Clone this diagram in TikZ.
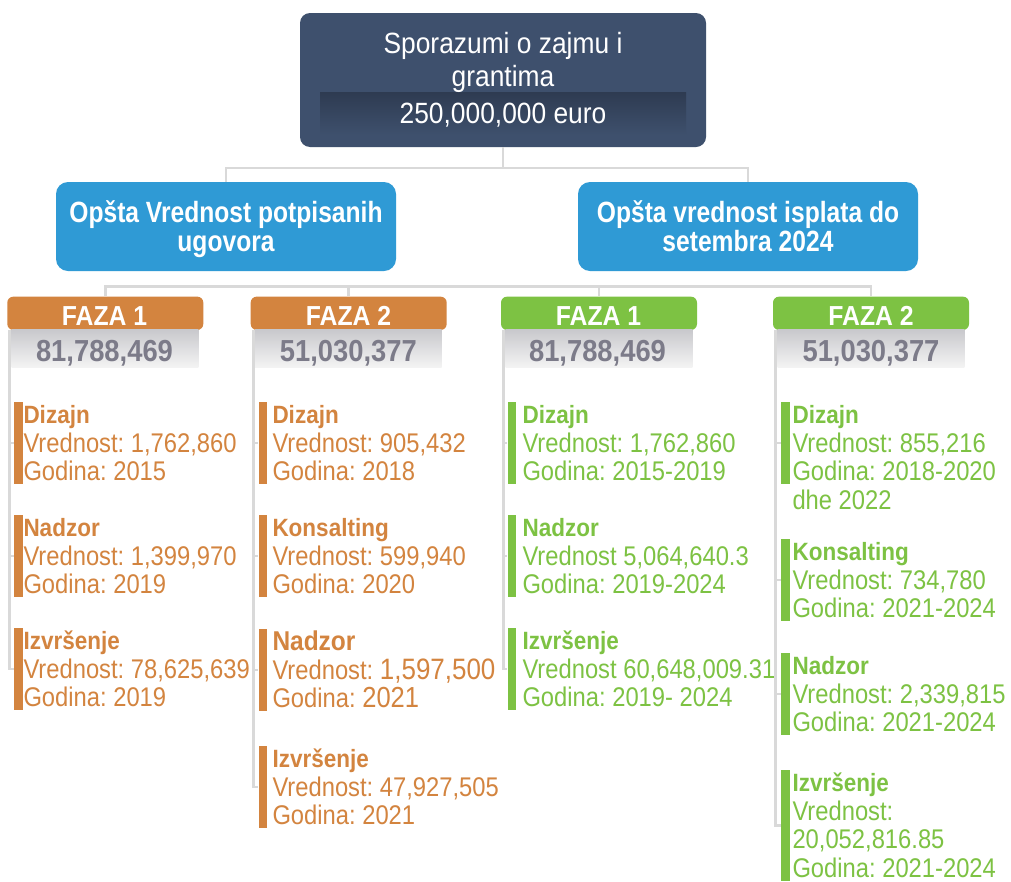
\documentclass[tikz,border=0pt]{standalone}
\usepackage{fontspec}
\setmainfont{Liberation Sans}
\newfontfamily\fA{Liberation Sans}[FakeStretch=0.9]
\newfontfamily\fC{Liberation Sans}[FakeStretch=0.88]
\newfontfamily\fB{Liberation Sans}[FakeStretch=0.84]
\frenchspacing
\usetikzlibrary{calc}
\definecolor{navy}{HTML}{3E506D}
\definecolor{navyd}{HTML}{2E3B51}
\definecolor{sky}{HTML}{2F9AD5}
\definecolor{orng}{HTML}{D3843F}
\definecolor{grn}{HTML}{7DC243}
\definecolor{numgray}{HTML}{7C7B89}
\definecolor{linegray}{HTML}{D9D9D9}
\definecolor{bandtop}{HTML}{C9C9CD}
\definecolor{bandbot}{HTML}{F4F4F4}
\tikzset{
  conn/.style={draw=linegray, line width=2.5pt},
  topbox/.style={rectangle, rounded corners=10pt, fill=navy, minimum width=406pt, minimum height=134pt, inner sep=0pt},
  bluebox/.style={rectangle, rounded corners=12pt, fill=sky, minimum width=340pt, minimum height=89pt, inner sep=0pt},
  fazabox/.style={rectangle, rounded corners=6pt, minimum width=196pt, minimum height=33.3pt, inner sep=0pt},
  bandbox/.style={rectangle, top color=bandtop, bottom color=bandbot, minimum width=186.6pt, minimum height=37.7pt, inner sep=0pt},
  toptext/.style={anchor=base, inner sep=0pt, text=white, font=\fA\fontsize{29.3}{30}\selectfont},
  bluetext/.style={anchor=base, inner sep=0pt, text=white, font=\fB\bfseries\fontsize{29.3}{30}\selectfont},
  fazatext/.style={anchor=base, inner sep=0pt, text=white, font=\fA\bfseries\fontsize{27.5}{28}\selectfont},
  numtext/.style={anchor=base, inner sep=0pt, text=numgray, font=\fA\bfseries\fontsize{30.4}{31}\selectfont},
  itembar/.style={rectangle, anchor=north west, inner sep=0pt, minimum width=8.6pt, minimum height=82pt},
  ttl/.style={anchor=base west, inner sep=0pt, font=\fA\bfseries\fontsize{25}{26}\selectfont},
  txt/.style={anchor=base west, inner sep=0pt, font=\fC\fontsize{27}{28}\selectfont},
}
\newcommand\stditem[8]{%
  \node[itembar,fill=#5] (#1) at (#2,#4) {};
  \node[ttl,text=#5] (#1t) at (#3,#4+21) {#6};
  \node[txt,text=#5] (#1v) at (#3,#4+50) {#7};
  \node[txt,text=#5] (#1g) at (#3,#4+78.5) {#8};
}
\begin{document}
\begin{tikzpicture}[x=1pt,y=-1pt]
\useasboundingbox (0,0) rectangle (1011,881);
\fill[white] (0,0) rectangle (1011,881);

% top box
\node[topbox] (top) at (503,80) {};
\fill[top color=navyd, bottom color=navy] (320,92) rectangle (686,135);
\node[toptext] (t1) at (503,53) {Sporazumi o zajmu i};
\node[toptext] (t2) at (503,86.5) {grantima};
\node[toptext] (t3) at (503,123) {250,000,000 euro};

% blue boxes
\node[bluebox] (b1) at (226,226.5) {};
\node[bluebox] (b2) at (748,226.5) {};
\node[bluetext] (b1a) at (226,222.5) {Opšta Vrednost potpisanih};
\node[bluetext] (b1b) at (226,251) {ugovora};
\node[bluetext] (b2a) at (748,222.5) {Opšta vrednost isplata do};
\node[bluetext] (b2b) at (748,251) {setembra 2024};

\coordinate (j1) at (503,168);
\draw[conn] (top.south) -- (j1);
\draw[conn] (b1.north) |- (j1) -| (b2.north);

% FAZA headers
\node[fazabox,fill=orng] (f1) at (105.3,313.3) {};
\node[fazabox,fill=orng] (f2) at (348.7,313.3) {};
\node[fazabox,fill=grn] (f3) at (599,313.3) {};
\node[fazabox,fill=grn] (f4) at (871,313.3) {};
\coordinate (h1) at (105.3,286.5);
\coordinate (h4) at (871,286.5);
\draw[conn] (f1.north) -- (h1) -- (h4) -- (f4.north);
\draw[conn] (f2.north) -- (f2.north |- h1);
\draw[conn] (f3.north) -- (f3.north |- h1);
\node[fazatext] (f1t) at (104.5,325.7) {FAZA 1};
\node[fazatext] (f2t) at (348.5,325.7) {FAZA 2};
\node[fazatext] (f3t) at (598.5,325.7) {FAZA 1};
\node[fazatext] (f4t) at (871,325.7) {FAZA 2};

% number bands
\node[bandbox] (n1) at (105,348.8) {};
\node[bandbox] (n2) at (348.3,348.8) {};
\node[bandbox] (n3) at (599,348.8) {};
\node[bandbox] (n4) at (871,348.8) {};
\node[numtext] (n1t) at (104.5,361) {81,788,469};
\node[numtext] (n2t) at (348.3,361) {51,030,377};
\node[numtext] (n3t) at (597.5,361) {81,788,469};
\node[numtext] (n4t) at (871,361) {51,030,377};

% column 1
\begin{scope}
\clip (0,380) rectangle (255,881);
\stditem{i11}{14}{23.3}{402}{orng}{Dizajn}{Vrednost: 1,762,860}{Godina: 2015}
\stditem{i12}{14}{23.3}{515}{orng}{Nadzor}{Vrednost: 1,399,970}{Godina: 2019}
\stditem{i13}{14}{23.3}{628}{orng}{Izvršenje}{Vrednost: 78,625,639}{Godina: 2019}
\end{scope}

% column 2
\stditem{i21}{258.3}{272.3}{402}{orng}{Dizajn}{Vrednost: 905,432}{Godina: 2018}
\stditem{i22}{258.3}{272.3}{515}{orng}{Konsalting}{Vrednost: 599,940}{Godina: 2020}
\node[itembar,fill=orng] (i23) at (258.3,629) {};
\node[ttl,text=orng,font=\fA\bfseries\fontsize{27.2}{28}\selectfont] (i23t) at (272.3,650) {Nadzor};
\node[txt,text=orng] (i23v) at (272.3,679) {Vrednost: {\fontsize{29.5}{30}\selectfont 1,597,500}};
\node[txt,text=orng] (i23g) at (272.3,707.5) {Godina: {\fontsize{29}{30}\selectfont 2021}};
\stditem{i24}{258.3}{272.3}{746}{orng}{Izvršenje}{Vrednost: 47,927,505}{Godina: 2021}

% column 3
\stditem{i31}{507.3}{522.3}{402}{grn}{Dizajn}{Vrednost: 1,762,860}{Godina: 2015-2019}
\stditem{i32}{507.3}{522.3}{515}{grn}{Nadzor}{Vrednost 5,064,640.3}{Godina: 2019-2024}
\stditem{i33}{507.3}{522.3}{628}{grn}{Izvršenje}{Vrednost 60,648,009.31}{Godina: 2019- 2024}

% column 4
\stditem{i41}{780.7}{792.3}{402}{grn}{Dizajn}{Vrednost: 855,216}{Godina: 2018-2020}
\node[txt,text=grn] (i41d) at (792.3,509.3) {dhe 2022};
\stditem{i42}{780.7}{792.3}{539}{grn}{Konsalting}{Vrednost: 734,780}{Godina: 2021-2024}
\stditem{i43}{780.7}{792.3}{653}{grn}{Nadzor}{Vrednost: 2,339,815}{Godina: 2021-2024}
\node[itembar,fill=grn,minimum height=111pt] (i44) at (780.7,770) {};
\node[ttl,text=grn] (i44t) at (792.3,791) {Izvršenje};
\node[txt,text=grn] (i44v) at (792.3,820) {Vrednost:};
\node[txt,text=grn] (i44n) at (792.3,848.5) {20,052,816.85};
\node[txt,text=grn] (i44g) at (792.3,877) {Godina: 2021-2024};

% tree lines
\coordinate (c1) at (9.7,330);
\coordinate (c2) at (253.3,330);
\coordinate (c3) at (503.3,330);
\coordinate (c4) at (775.3,330);
\draw[conn] (c1) |- (i13.west);
\draw[conn] (c1 |- i11.west) -- (i11.west);
\draw[conn] (c1 |- i12.west) -- (i12.west);
\draw[conn] (c2) |- (i24.west);
\draw[conn] (c2 |- i21.west) -- (i21.west);
\draw[conn] (c2 |- i22.west) -- (i22.west);
\draw[conn] (c2 |- i23.west) -- (i23.west);
\draw[conn] (c3) |- (i33.west);
\draw[conn] (c3 |- i31.west) -- (i31.west);
\draw[conn] (c3 |- i32.west) -- (i32.west);
\draw[conn] (c4) |- (i44.west);
\draw[conn] (c4 |- i41.west) -- (i41.west);
\draw[conn] (c4 |- i42.west) -- (i42.west);
\draw[conn] (c4 |- i43.west) -- (i43.west);
\end{tikzpicture}
\end{document}
